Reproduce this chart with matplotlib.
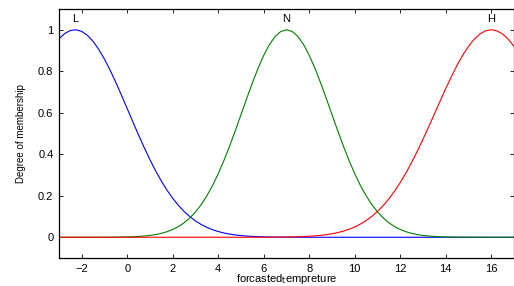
import numpy as np
import matplotlib
matplotlib.use("Agg")
import matplotlib.pyplot as plt

plt.rcParams['font.family'] = ['Liberation Sans', 'DejaVu Sans']

x = np.arange(-3, 17.001, 0.25)
low = [0.9566, 0.9818, 0.9964, 0.9998, 0.9919, 0.9730, 0.9437, 0.9050, 0.8581, 0.8045,
       0.7458, 0.6835, 0.6194, 0.5550, 0.4917, 0.4308, 0.3731, 0.3195, 0.2705, 0.2265,
       0.1875, 0.1535, 0.1242, 0.0994, 0.0786, 0.0615, 0.0476, 0.0364, 0.0275, 0.0206,
       0.0152, 0.0111, 0.0080, 0.0057, 0.0041, 0.0028, 0.0020, 0.0013, 0.0009, 0.0006,
       0.0004, 0.0003, 0.0002, 0.0001, 0.0001, 0, 0, 0, 0, 0,
       0, 0, 0, 0, 0, 0, 0, 0, 0, 0,
       0, 0, 0, 0, 0, 0, 0, 0, 0, 0,
       0, 0, 0, 0, 0, 0, 0, 0, 0, 0, 0]
normal = [0, 0, 0, 0, 0, 0, 0.0001, 0.0001, 0.0002, 0.0004,
          0.0006, 0.0010, 0.0016, 0.0025, 0.0039, 0.0059, 0.0088, 0.0129, 0.0187, 0.0267,
          0.0374, 0.0515, 0.0698, 0.0930, 0.1220, 0.1574, 0.1998, 0.2494, 0.3062, 0.3699,
          0.4396, 0.5139, 0.5910, 0.6685, 0.7439, 0.8143, 0.8768, 0.9287, 0.9677, 0.9918,
          1.0, 0.9918, 0.9677, 0.9287, 0.8768, 0.8143, 0.7439, 0.6685, 0.5910, 0.5139,
          0.4396, 0.3699, 0.3062, 0.2494, 0.1998, 0.1574, 0.1220, 0.0930, 0.0698, 0.0515,
          0.0374, 0.0267, 0.0187, 0.0129, 0.0088, 0.0059, 0.0039, 0.0025, 0.0016, 0.0010,
          0.0006, 0.0004, 0.0002, 0.0001, 0.0001, 0, 0, 0, 0, 0, 0]
high = [0, 0, 0, 0, 0, 0, 0, 0, 0, 0,
        0, 0, 0, 0, 0, 0, 0, 0, 0, 0,
        0, 0, 0, 0, 0, 0, 0, 0, 0, 0,
        0, 0, 0, 0.0001, 0.0001, 0.0002, 0.0002, 0.0004, 0.0005, 0.0008,
        0.0012, 0.0017, 0.0024, 0.0035, 0.0048, 0.0067, 0.0092, 0.0125, 0.0169, 0.0225,
        0.0296, 0.0386, 0.0498, 0.0637, 0.0805, 0.1007, 0.1246, 0.1527, 0.1851, 0.2221,
        0.2637, 0.3099, 0.3604, 0.4149, 0.4725, 0.5327, 0.5942, 0.6559, 0.7166, 0.7748,
        0.8291, 0.8780, 0.9201, 0.9542, 0.9794, 0.9948, 1.0, 0.9948, 0.9794, 0.9542, 0.9201]

mf_names = ["L", "N", "H"]
mf_peaks = [-2.3, 7, 16]

fig = plt.figure(figsize=(5.14, 2.86), dpi=100)
ax = fig.add_axes([59 / 514, 28 / 286, 455 / 514, 249 / 286])

ax.plot(x, low, color=(0, 0, 1), lw=0.8)
ax.plot(x, normal, color=(0, 0.5, 0), lw=0.8)
ax.plot(x, high, color=(1, 0, 0), lw=0.8)

for name, pk in zip(mf_names, mf_peaks):
    ax.text(pk, 1.052, name, ha='center', va='center', fontsize=8)

ax.set_xlim(-3, 17)
ax.set_ylim(-0.1, 1.1)
ax.set_xticks(np.arange(-2, 17, 2))
ax.set_yticks([0, 0.2, 0.4, 0.6, 0.8, 1])
ax.set_yticklabels(["0", "0.2", "0.4", "0.6", "0.8", "1"])
ax.tick_params(direction='in', top=True, right=True, length=3, width=0.6,
               labelsize=8, pad=4)
for sp in ax.spines.values():
    sp.set_linewidth(0.9)

ax.set_xlabel("forcasted$_\\mathrm{t}$empreture", fontsize=8, labelpad=-1)
ax.set_ylabel("Degree of membership", fontsize=7, labelpad=9)

fig.savefig("out.png", dpi=100)
